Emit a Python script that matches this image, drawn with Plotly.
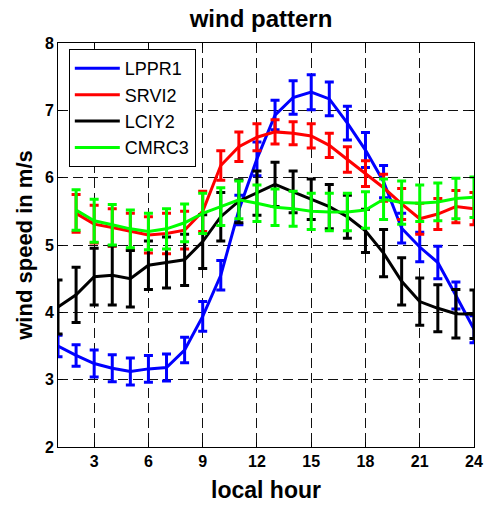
import plotly.graph_objects as go

hours = list(range(1, 25))

names = ["LPPR1", "SRVI2", "LCIY2", "CMRC3"]
colors = ["#0000ff", "#ff0000", "#000000", "#00ff00"]

lppr1 = [3.50, 3.36, 3.24, 3.17, 3.12, 3.16, 3.18, 3.44, 3.94, 4.55, 5.52, 6.28,
         6.93, 7.19, 7.27, 7.17, 6.81, 6.41, 5.94, 5.25, 4.97, 4.74, 4.25, 3.75]
lppr1_err = [0.16, 0.16, 0.20, 0.20, 0.20, 0.20, 0.20, 0.19, 0.22, 0.22, 0.22, 0.25,
             0.22, 0.25, 0.26, 0.25, 0.25, 0.26, 0.24, 0.22, 0.22, 0.24, 0.20, 0.20]

srvi2 = [None, 5.47, 5.31, 5.26, 5.20, 5.15, 5.17, 5.22, 5.50, 6.18, 6.46, 6.60,
         6.68, 6.66, 6.62, 6.48, 6.27, 6.06, 5.85, 5.61, 5.39, 5.46, 5.57, 5.54]
srvi2_err = [None, 0.28, 0.28, 0.28, 0.27, 0.27, 0.30, 0.28, 0.30, 0.22, 0.22, 0.20,
             0.18, 0.17, 0.18, 0.18, 0.19, 0.19, 0.20, 0.23, 0.23, 0.23, 0.24, 0.24]

lciy2 = [4.08, 4.26, 4.53, 4.55, 4.50, 4.70, 4.74, 4.78, 5.05, 5.42, 5.65, 5.77,
         5.90, 5.79, 5.68, 5.57, 5.42, 5.21, 4.88, 4.46, 4.16, 4.06, 3.98, 3.97]
lciy2_err = [0.40, 0.41, 0.42, 0.44, 0.42, 0.36, 0.38, 0.38, 0.40, 0.36, 0.32, 0.33,
             0.33, 0.31, 0.30, 0.33, 0.32, 0.32, 0.35, 0.35, 0.35, 0.35, 0.36, 0.36]

cmrc3 = [None, 5.52, 5.36, 5.30, 5.24, 5.20, 5.24, 5.33, 5.47, 5.57, 5.67, 5.62,
         5.56, 5.54, 5.50, 5.49, 5.49, 5.52, 5.68, 5.63, 5.62, 5.64, 5.69, 5.71]
cmrc3_err = [None, 0.30, 0.32, 0.30, 0.28, 0.27, 0.30, 0.28, 0.30, 0.28, 0.28, 0.27,
             0.27, 0.26, 0.27, 0.28, 0.28, 0.27, 0.30, 0.32, 0.27, 0.28, 0.30, 0.30]

x_ticks = [3, 6, 9, 12, 15, 18, 21, 24]
y_ticks = [2, 3, 4, 5, 6, 7, 8]

series = [lppr1, srvi2, lciy2, cmrc3]
errors = [lppr1_err, srvi2_err, lciy2_err, cmrc3_err]

FONT = "Liberation Sans, Arial, Helvetica, sans-serif"

fig = go.Figure()
for name, col, ys, es in zip(names, colors, series, errors):
    fig.add_trace(go.Scatter(
        x=hours, y=ys, name=name, mode="lines",
        line=dict(color=col, width=3),
        connectgaps=False,
        error_y=dict(type="data", array=es, visible=True, color=col,
                     thickness=3, width=4.5),
        cliponaxis=True,
    ))

axis_common = dict(
    showline=True, linecolor="black", linewidth=1, mirror="allticks",
    ticks="inside", ticklen=5, tickcolor="black", tickwidth=1,
    showgrid=True, gridcolor="#111111", gridwidth=1, griddash="10px,5px",
    zeroline=False, automargin=False,
    tickfont=dict(family=FONT, size=16, color="black", weight="bold"),
)

fig.update_layout(
    width=486, height=506,
    margin=dict(l=58, r=12, t=43, b=59, autoexpand=False),
    paper_bgcolor="white", plot_bgcolor="white",
    title=dict(text="<b>wind pattern</b>", x=261 / 486, xref="container", xanchor="center",
               y=1 - 19 / 506, yref="container", yanchor="middle",
               font=dict(family=FONT, size=24, color="black")),
    xaxis=dict(range=[1, 24], tickvals=x_ticks,
               title=dict(text="<b>local hour</b>", standoff=12,
                          font=dict(family=FONT, size=23, color="black")),
               **axis_common),
    yaxis=dict(range=[2, 8], tickvals=y_ticks,
               title=dict(text="<b>wind speed in m/s</b>", standoff=6,
                          font=dict(family=FONT, size=22, color="black")),
               **axis_common),
    legend=dict(x=0.026, y=0.985, xanchor="left", yanchor="top",
                bgcolor="white", bordercolor="black", borderwidth=1,
                font=dict(family=FONT, size=18, color="black"),
                itemwidth=45, tracegroupgap=0,
                entrywidth=110, entrywidthmode="pixels"),
    showlegend=True,
    hovermode=False,
)

fig.write_html(
    "out.html",
    config={"displayModeBar": False, "staticPlot": True},
    post_script="document.body.style.margin='0';document.body.style.padding='0';",
)
